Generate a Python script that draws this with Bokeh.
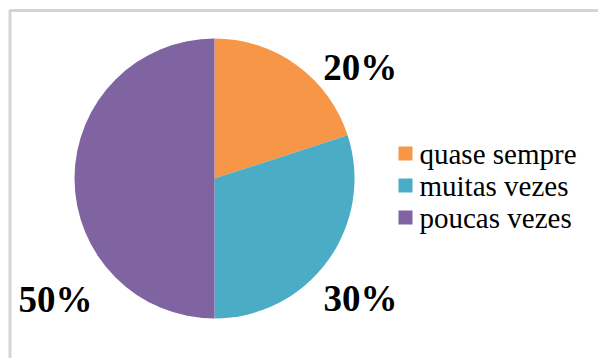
import math
from bokeh.plotting import figure
from bokeh.models import ColumnDataSource, Range1d, BoxAnnotation
from bokeh.core.properties import value
from bokeh.embed import file_html
from bokeh.resources import INLINE

# data
categories = ["quase sempre", "muitas vezes", "poucas vezes"]
values = [20, 30, 50]
colors = ["#F79646", "#4BACC6", "#8064A2"]
pct_labels = ["20%", "30%", "50%"]

W, H = 598, 358
CX, CY, R = 214, 180, 140
# label placement (polar, relative to centre): angle deg, distance px
label_pos = [(37.2, 183), (-39.4, 189), (217.3, 200)]
# legend layout
LEG_X, LEG_Y0, LEG_STEP, LEG_SQ, LEG_GAP = 405, 205, 32, 14, 14

total = sum(values)
starts, ends = [], []
a = math.pi / 2
for v in values:
    sweep = 2 * math.pi * v / total
    starts.append(a - sweep)
    ends.append(a)
    a -= sweep

src = ColumnDataSource(dict(cat=categories, val=values, color=colors,
                            start=starts, end=ends))

p = figure(width=W, height=H, output_backend="svg", toolbar_location=None,
           x_range=Range1d(0, W), y_range=Range1d(0, H), min_border=0)
p.axis.visible = False
p.grid.visible = False
p.outline_line_color = None
p.background_fill_color = "white"

# frame (right and bottom edges lie outside the view)
p.add_layout(BoxAnnotation(left=9.5, right=W + 30, top=H - 10, bottom=-30,
                           fill_alpha=0, line_color="#D4D4D4", line_width=3,
                           line_alpha=1))

p.wedge(x=CX, y=CY, radius=R, start_angle="start", end_angle="end",
        fill_color="color", line_color=None, source=src)

lx = [CX + d * math.cos(math.radians(ang)) for ang, d in label_pos]
ly = [CY + d * math.sin(math.radians(ang)) for ang, d in label_pos]
p.text(x=lx, y=ly, text=pct_labels, text_font=value("Liberation Serif"),
       text_font_style="bold", text_font_size="37px", text_align="center",
       text_baseline="middle", text_color="black")

# legend
leg_y = [LEG_Y0 - i * LEG_STEP for i in range(len(categories))]
leg_src = ColumnDataSource(dict(x=[LEG_X] * len(categories), tx=[LEG_X + LEG_GAP] * len(categories),
                                y=leg_y, cat=categories, color=colors))
p.scatter(x="x", y="y", marker="square", size=LEG_SQ, fill_color="color",
          line_color=None, source=leg_src)
p.text(x="tx", y="y", text="cat", text_font=value("Liberation Serif"),
       text_font_size="29px", text_align="left", text_baseline="middle",
       text_color="black", source=leg_src)

open("out.html", "w").write(file_html(p, INLINE))
